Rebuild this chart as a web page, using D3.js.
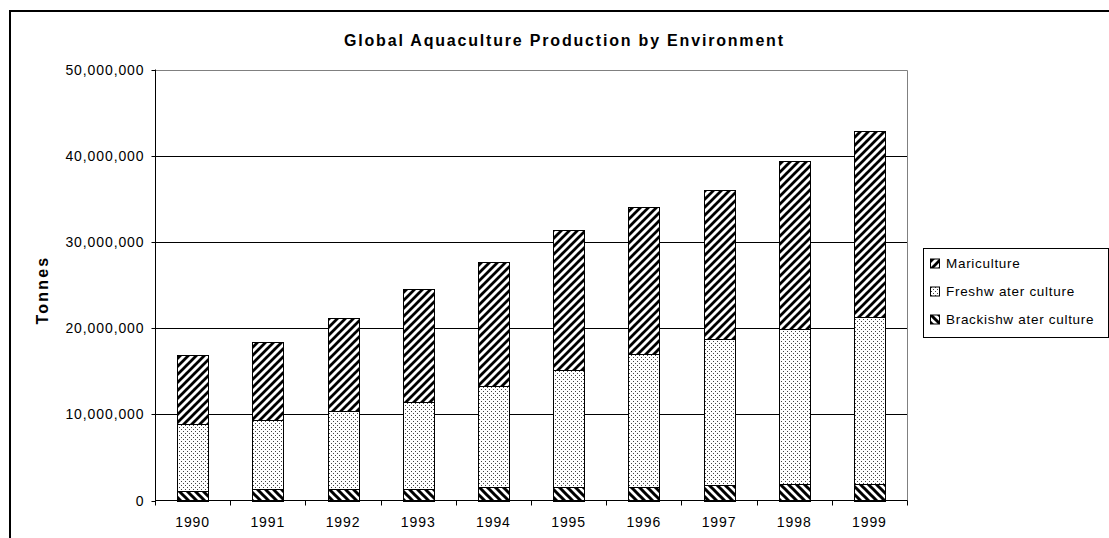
<!DOCTYPE html>
<html>
<head>
<meta charset="utf-8">
<script src="https://cdn.jsdelivr.net/npm/d3@7"></script>
<style>
  html, body { margin: 0; padding: 0; background: #fff; }
  svg { display: block; }
  text { font-family: "Liberation Sans", Arial, sans-serif; fill: #000; }
</style>
</head>
<body>
<svg id="chart" width="1109" height="538"></svg>
<script>
const years = ["1990","1991","1992","1993","1994","1995","1996","1997","1998","1999"];
const brackishwater = [1160000,1320000,1360000,1360000,1550000,1550000,1550000,1780000,1900000,1900000];
const freshwater = [7770000,8010000,8970000,10050000,11680000,13580000,15500000,16900000,18020000,19380000];
const mariculture = [7970000,9000000,10830000,13110000,14460000,16270000,16990000,17360000,19450000,21610000];
const seriesKeys = ["brackish","fresh","mari"];
const seriesLabels = ["Mariculture","Freshw ater culture","Brackishw ater culture"];
const yTicks = [0,10000000,20000000,30000000,40000000,50000000];
const titleText = "Global Aquaculture Production by Environment";
const yTitle = "Tonnes";

(function(){
const rows = years.map((y,i)=>({year:y, brackish:brackishwater[i], fresh:freshwater[i], mari:mariculture[i]}));

const svg = d3.select("#chart");
const defs = svg.append("defs");

// Patterns
const pMari = defs.append("pattern").attr("id","pat-mari").attr("patternUnits","userSpaceOnUse")
  .attr("width",8).attr("height",8);
pMari.append("rect").attr("width",8).attr("height",8).attr("fill","#fff");
pMari.append("path").attr("d","M-2,2 L2,-2 M0,8 L8,0 M6,10 L10,6")
  .attr("stroke","#000").attr("stroke-width",2.8);

const pBrack = defs.append("pattern").attr("id","pat-brack").attr("patternUnits","userSpaceOnUse")
  .attr("width",8).attr("height",8);
pBrack.append("rect").attr("width",8).attr("height",8).attr("fill","#fff");
pBrack.append("path").attr("d","M-2,6 L2,10 M0,0 L8,8 M6,-2 L10,2")
  .attr("stroke","#000").attr("stroke-width",3);

const pFresh = defs.append("pattern").attr("id","pat-fresh").attr("patternUnits","userSpaceOnUse")
  .attr("width",4).attr("height",4);
pFresh.append("rect").attr("width",4).attr("height",4).attr("fill","#fff");
pFresh.append("rect").attr("x",1).attr("y",1).attr("width",1).attr("height",1).attr("fill","#444");
pFresh.append("rect").attr("x",3).attr("y",3).attr("width",1).attr("height",1).attr("fill","#444");

const fills = {mari:"url(#pat-mari)", fresh:"url(#pat-fresh)", brackish:"url(#pat-brack)"};

// Outer frame
svg.append("rect").attr("x",10).attr("y",11).attr("width",1200).attr("height",600)
  .attr("fill","none").attr("stroke","#000").attr("stroke-width",2);

const pLeft = 155, pRight = 907, pTop = 69.5, pBottom = 500.5;

const x = d3.scaleBand().domain(years).range([pLeft, pRight]).paddingInner(0.588).paddingOuter(0.294);
const y = d3.scaleLinear().domain([0, 50000000]).range([pBottom, pTop]);

// gridlines
svg.append("g").selectAll("line").data(yTicks.filter(t=>t>0 && t<50000000)).join("line")
  .attr("x1",pLeft).attr("x2",pRight).attr("y1",d=>Math.round(y(d))+0.5).attr("y2",d=>Math.round(y(d))+0.5)
  .attr("stroke","#000").attr("stroke-width",1);

// plot border top/right
svg.append("path")
  .attr("d",`M${pLeft},${Math.round(y(50000000))+0.5} H${pRight+0.5} V${pBottom}`)
  .attr("fill","none").attr("stroke","#808080").attr("stroke-width",1);

// bars
const stack = d3.stack().keys(seriesKeys)(rows);
svg.append("g").selectAll("g").data(stack).join("g")
  .attr("fill", d=>fills[d.key])
  .selectAll("rect").data(d=>d).join("rect")
  .attr("x", d=>Math.round(x(d.data.year))+0.5)
  .attr("width", Math.round(x.bandwidth()))
  .attr("y", d=>Math.round(y(d[1]))+0.5)
  .attr("height", d=>Math.round(y(d[0]))-Math.round(y(d[1])))
  .attr("stroke","#000").attr("stroke-width",1);

// y axis
const yAxis = d3.axisLeft(y).tickValues(yTicks).tickSize(4).tickPadding(8)
  .tickFormat(d3.format(","));
const gy = svg.append("g").attr("transform",`translate(${pLeft+0.5},0)`).call(yAxis);
gy.select(".domain").attr("stroke","#000").attr("d",`M0,${pTop}V${pBottom}`);
gy.selectAll(".tick line").attr("stroke","#000").attr("x2",-4);
gy.selectAll(".tick").attr("transform", d=>`translate(0,${Math.round(y(d))+0.5})`);
gy.selectAll("text").attr("font-size",14).attr("font-family","Liberation Sans, Arial, sans-serif")
  .style("letter-spacing","0.9px").attr("dy","0.35em").attr("x",-11);

// x axis
const xAxis = d3.axisBottom(x).tickSize(0).tickPadding(17);
const gx = svg.append("g").attr("transform",`translate(0,${pBottom})`).call(xAxis);
gx.select(".domain").attr("stroke","#000").attr("d",`M${pLeft},0H${pRight+0.5}`);
gx.selectAll("text").attr("font-size",14).attr("font-family","Liberation Sans, Arial, sans-serif")
  .style("letter-spacing","0.9px");
// boundary ticks
const step = x.step();
const boundaries = d3.range(years.length+1).map(i=>x.range()[0] + i*step);
gx.append("g").selectAll("line").data(boundaries).join("line")
  .attr("x1",d=>Math.round(d)+0.5).attr("x2",d=>Math.round(d)+0.5).attr("y1",0).attr("y2",5)
  .attr("stroke","#000");

// title
svg.append("text").attr("x",563.5).attr("y",46).attr("text-anchor","middle")
  .attr("font-size",16).attr("font-weight","bold")
  .attr("textLength",439).attr("lengthAdjust","spacing")
  .text(titleText);

// y title
svg.append("text").attr("transform","translate(48,290) rotate(-90)").attr("text-anchor","middle")
  .attr("font-size",16).attr("font-weight","bold").style("letter-spacing","2.2px")
  .text(yTitle);

// legend
const lg = svg.append("g");
lg.append("rect").attr("x",923.5).attr("y",248.5).attr("width",185).attr("height",89)
  .attr("fill","#fff").attr("stroke","#000");
const legendFills = [fills.mari, fills.fresh, fills.brackish];
const legendY = [263.5, 291.5, 319.5];
seriesLabels.forEach((lab,i)=>{
  lg.append("rect").attr("x",930.5).attr("y",legendY[i]-4.5).attr("width",9).attr("height",9)
    .attr("fill",legendFills[i]).attr("stroke","#000");
  lg.append("text").attr("x",946).attr("y",legendY[i]).attr("dy","0.35em")
    .attr("font-size",13.5).style("letter-spacing","0.7px").text(lab);
});
})();
</script>
</body>
</html>
